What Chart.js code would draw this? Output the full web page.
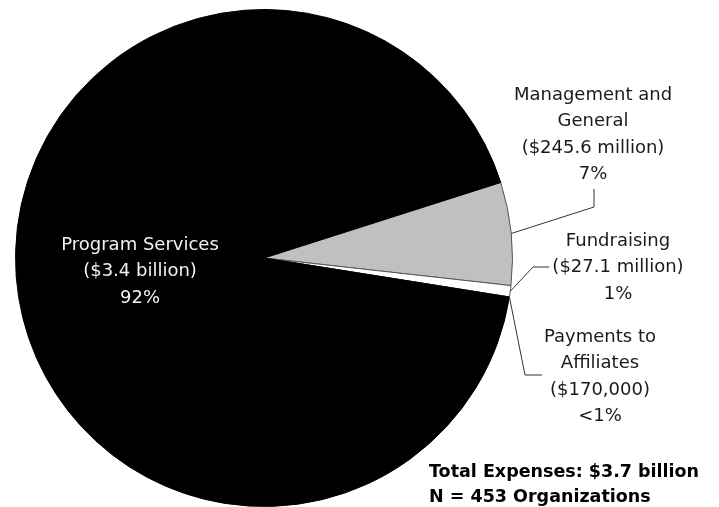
<!DOCTYPE html>
<html>
<head>
<meta charset="utf-8">
<script src="https://cdn.jsdelivr.net/npm/chart.js@4/dist/chart.umd.min.js"></script>
<style>
  html, body { margin: 0; padding: 0; background: #fff; }
  #wrap { width: 719px; height: 507px; position: relative; }
</style>
</head>
<body>
<div id="wrap"><canvas id="pie"></canvas></div>
<script>
// expenses, in millions of dollars
var categories = ['Management and General', 'Fundraising', 'Payments to Affiliates', 'Program Services'];
var amounts = [245.6, 27.1, 0.17, 3400];
var amountLabels = ['($245.6 million)', '($27.1 million)', '($170,000)', '($3.4 billion)'];
var pctLabels = ['7%', '1%', '<1%', '92%'];
var sliceColors = ['#c0c0c0', '#ffffff', '#ffffff', '#000000'];
var footLines = ['Total Expenses: $3.7 billion', 'N = 453 Organizations'];

// where each label block sits (text lines, centre x, first line y)
var labelSpots = [
    { lines: ['Management and', 'General', amountLabels[0], pctLabels[0]], x: 593, y: 95, color: '#1a1a1a' },
    { lines: ['Fundraising', amountLabels[1], pctLabels[1]], x: 618, y: 241, color: '#1a1a1a' },
    { lines: ['Payments to', 'Affiliates', amountLabels[2], pctLabels[2]], x: 600, y: 337, color: '#1a1a1a' },
    { lines: ['Program Services', amountLabels[3], pctLabels[3]], x: 140, y: 245, color: '#f2f2f2' }
];
// leader line bends (pie point comes from the arc itself)
var leaders = [
    [[594, 207], [594, 189]],
    [[533, 267], [549, 267]],
    [[525, 375], [542, 375]],
    null
];

var labelPlugin = {
    id: 'pieLabels',
    afterDraw: function(chart) {
        var ctx = chart.ctx;
        var arcs = chart.getDatasetMeta(0).data;
        ctx.save();
        ctx.font = '18px "DejaVu Sans"';
        ctx.textAlign = 'center';
        ctx.textBaseline = 'middle';
        labelSpots.forEach(function(spot, i) {
            ctx.fillStyle = spot.color;
            spot.lines.forEach(function(line, j) {
                ctx.fillText(line, spot.x, spot.y + j * 26.5);
            });
            if (leaders[i]) {
                var a = arcs[i].getProps(['x', 'y', 'startAngle', 'endAngle', 'outerRadius'], true);
                var mid = (a.startAngle + a.endAngle) / 2;
                ctx.strokeStyle = '#333';
                ctx.lineWidth = 1;
                ctx.beginPath();
                ctx.moveTo(a.x + Math.cos(mid) * a.outerRadius, a.y + Math.sin(mid) * a.outerRadius);
                leaders[i].forEach(function(p) { ctx.lineTo(p[0], p[1]); });
                ctx.stroke();
            }
        });
        ctx.font = 'bold 17.5px "DejaVu Sans"';
        ctx.textAlign = 'left';
        ctx.fillStyle = '#000';
        footLines.forEach(function(line, j) {
            ctx.fillText(line, 429, 472 + j * 25);
        });
        ctx.restore();
    }
};

const ctx = document.getElementById('pie').getContext('2d');
new Chart(ctx, {
    type: 'pie',
    data: {
        labels: categories,
        datasets: [{
            data: amounts,
            backgroundColor: sliceColors,
            borderColor: ['#555', '#555', '#555', '#000'],
            borderWidth: 1,
            hoverOffset: 0
        }]
    },
    options: {
        responsive: true,
        maintainAspectRatio: false,
        animation: false,
        rotation: 72.3,
        layout: { padding: { left: 15, right: 206, top: 9, bottom: 0 } },
        plugins: {
            legend: { display: false },
            tooltip: { enabled: false }
        }
    },
    plugins: [labelPlugin]
});
</script>
</body>
</html>
